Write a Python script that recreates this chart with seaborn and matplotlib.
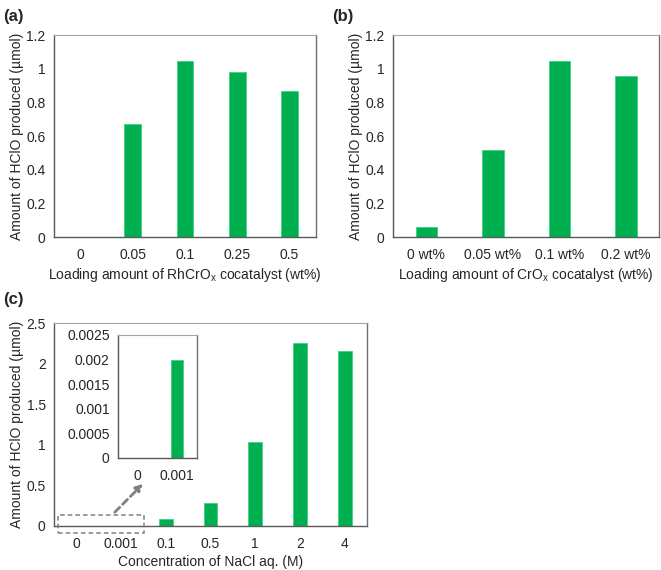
import numpy as np
import pandas as pd
import matplotlib
matplotlib.use("Agg")
import matplotlib.pyplot as plt
import seaborn as sns
from matplotlib.patches import Rectangle
from matplotlib.ticker import FuncFormatter

# Data
rhcrox_loading = ["0", "0.05", "0.1", "0.25", "0.5"]
rhcrox_hclo = [0.0, 0.67, 1.05, 0.98, 0.87]

crox_loading = ["0 wt%", "0.05 wt%", "0.1 wt%", "0.2 wt%"]
crox_hclo = [0.06, 0.52, 1.05, 0.96]

nacl_conc = ["0", "0.001", "0.1", "0.5", "1", "2", "4"]
nacl_hclo = [0.0, 0.002, 0.09, 0.28, 1.04, 2.25, 2.15]

inset_conc = ["0", "0.001"]
inset_hclo = [0.0, 0.002]

bar_green = "#00B050"
ylab = "Amount of HClO produced (\u00b5mol)"
FS = 10

sns.set_style("white")
plt.rcParams["font.family"] = ["Liberation Sans", "DejaVu Sans"]
plt.rcParams["mathtext.fontset"] = "custom"
plt.rcParams["mathtext.rm"] = "Liberation Sans"
plt.rcParams["font.size"] = FS

fig = plt.figure(figsize=(6.61, 5.70), dpi=100)
ax_a = fig.add_axes([0.0817, 0.584, 0.396, 0.354])
ax_b = fig.add_axes([0.5946, 0.584, 0.403, 0.354])
ax_c = fig.add_axes([0.0817, 0.0772, 0.4735, 0.356])
ax_in = fig.add_axes([0.1785, 0.1965, 0.1195, 0.2158])

fmt = FuncFormatter(lambda v, p: f"{v:g}")


def draw_panel(ax, cats, vals, ymax, ystep, width=0.32):
    df = pd.DataFrame({"cat": cats, "val": vals})
    sns.barplot(data=df, x="cat", y="val", order=cats, color=bar_green,
                width=width, saturation=1, edgecolor="#3FD07F", linewidth=0.6, ax=ax)
    n = len(cats)
    ax.set_xlim(-0.5, n - 0.5)
    ax.set_ylim(0, ymax)
    ax.set_yticks(np.arange(0, ymax + ystep / 2, ystep))
    ax.yaxis.set_major_formatter(fmt)
    ax.set_xticks(np.arange(n + 1) - 0.5, minor=True)
    ax.tick_params(axis="x", which="major", length=0, labelsize=FS, pad=8)
    ax.tick_params(axis="x", which="minor", length=4, width=0.9, color="#595959", direction="out")
    ax.tick_params(axis="y", length=4, width=0.9, color="#595959", direction="out", labelsize=FS, pad=2)
    for s in ["left", "bottom"]:
        ax.spines[s].set_color("#595959")
        ax.spines[s].set_linewidth(1.0)
    ax.spines["top"].set_color("#A6A6A6")
    ax.spines["top"].set_linewidth(0.8)
    ax.spines["right"].set_color("#707070")
    ax.spines["right"].set_linewidth(1.0)
    ax.set_xlabel("")
    ax.set_ylabel("")


draw_panel(ax_a, rhcrox_loading, rhcrox_hclo, 1.2, 0.2)
ax_a.set_xlabel("Loading amount of RhCrO$_\\mathregular{x}$ cocatalyst (wt%)", fontsize=FS, labelpad=3)
ax_a.set_ylabel(ylab, fontsize=FS, labelpad=2)

draw_panel(ax_b, crox_loading, crox_hclo, 1.2, 0.2)
ax_b.set_xlabel("Loading amount of CrO$_\\mathregular{x}$ cocatalyst (wt%)", fontsize=FS, labelpad=3)
ax_b.set_ylabel(ylab, fontsize=FS, labelpad=2)

draw_panel(ax_c, nacl_conc, nacl_hclo, 2.5, 0.5, width=0.31)
ax_c.set_xlabel("Concentration of NaCl aq. (M)", fontsize=FS, labelpad=3)
ax_c.set_ylabel(ylab, fontsize=FS, labelpad=2)

draw_panel(ax_in, inset_conc, inset_hclo, 0.0025, 0.0005, width=0.3)
ax_in.set_facecolor("white")

# dashed box around the first two bars and arrow to the inset
ax_c.add_patch(Rectangle((-0.41, -0.086), 1.92, 0.222, fill=False, ls=(0, (3, 2)),
                         lw=1.1, ec="#808080", clip_on=False, zorder=5))
ax_c.annotate("", xy=(1.49, 0.52), xytext=(0.86, 0.17),
              arrowprops=dict(arrowstyle="-|>", color="#808080", lw=2, ls=(0, (2.5, 1.5)),
                              mutation_scale=10, shrinkA=0, shrinkB=0))

fig.text(0.004, 0.985, "(a)", fontsize=12, fontweight="bold", va="top")
fig.text(0.502, 0.985, "(b)", fontsize=12, fontweight="bold", va="top")
fig.text(0.004, 0.488, "(c)", fontsize=12, fontweight="bold", va="top")

fig.savefig("out.png", dpi=100)
